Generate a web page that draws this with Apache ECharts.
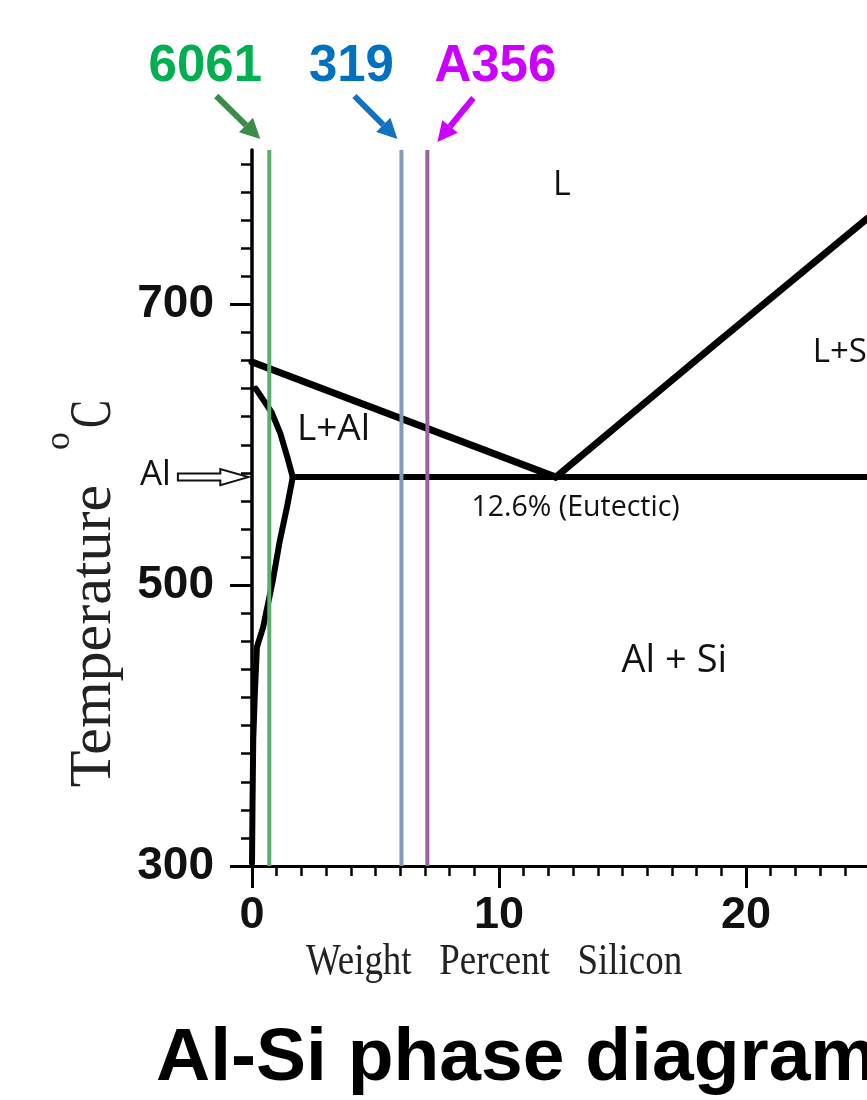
<!DOCTYPE html>
<html>
<head>
<meta charset="utf-8">
<script src="https://cdn.jsdelivr.net/npm/echarts@6/dist/echarts.min.js"></script>
<style>
html, body { margin: 0; padding: 0; background: #fff; }
#chart { width: 867px; height: 1100px; }
</style>
</head>
<body>
<div id="chart"></div>
<script>
// phase boundaries, [wt% Si, temperature C]
var liquidusAl = [[0, 659], [12.3, 577]];
var liquidusSi = [[12.3, 577], [18.5, 668], [24.9, 761]];
var eutecticLine = [[1.65, 577], [24.9, 577]];
var solidusAl = [[0.15, 640], [0.8, 623], [1.15, 608], [1.45, 590], [1.65, 577]];
var solvusAl = [[1.65, 577], [1.42, 556], [1.13, 532], [0.85, 504], [0.45, 470], [0.2, 456], [0.12, 425], [0.05, 390], [0.02, 342], [0, 302]];

// alloys marked on the diagram
var alloyNames = ['6061', '319', 'A356'];
var alloySi = [0.7, 6.05, 7.1];

// region labels
var regionText = ['L', 'L+Al', 'L+Si', '12.6% (Eutectic)', 'Al + Si'];
var regionSi = [12.55, 3.3, 22.7, 13.1, 17.1];
var regionTemp = [785, 611, 666, 555, 446];

// "Al" arrow on the temperature axis: from, to (wt% Si), temperature
var alArrow = [-3.0, -0.15, 577];

var xTicks = [0, 10, 20];
var yTicks = [300, 500, 700];
var xRange = [0, 24.9];
var yRange = [300, 810];

// styles
var alloyColor = ['#5aae6b', '#7f9bb8', '#9b62a0'];
var labelColor = ['#00b050', '#0070c0', '#cc00ff'];
var arrowColor = ['#3b8b4a', '#1470c0', '#cc00ff'];
// label centre, arrow start and arrow tip, px offsets from the top of each alloy line
var labelOffset = [[-64, -83], [-50, -83], [68, -83]];
var arrowFrom = [[-53, -54], [-47, -54], [46, -52]];
var arrowTo = [[-9, -11], [-4, -11], [10, -8]];
var regionFont = [34, 37, 33, 28.5, 38];

var serif = '"Liberation Serif", "Times New Roman", serif';
var sans = '"Liberation Sans", Arial, sans-serif';
var calib = '"Open Sans", "Noto Sans", sans-serif';

function phaseLine(data, w) {
    return {
        type: 'line',
        data: data,
        showSymbol: false,
        symbol: 'none',
        clip: false,
        z: 3,
        lineStyle: { color: '#000', width: w, cap: 'round', join: 'round' }
    };
}

function renderAlloy(params, api) {
    var i = api.value(1);
    var top = api.coord([api.value(0), yRange[1]]);
    var bot = api.coord([api.value(0), yRange[0]]);
    var from = [top[0] + arrowFrom[i][0], top[1] + arrowFrom[i][1]];
    var to = [top[0] + arrowTo[i][0], top[1] + arrowTo[i][1]];
    var dx = to[0] - from[0], dy = to[1] - from[1];
    var len = Math.sqrt(dx * dx + dy * dy);
    var ux = dx / len, uy = dy / len;
    var headLen = 20, headHalf = 10;
    var base = [to[0] - ux * headLen, to[1] - uy * headLen];
    return {
        type: 'group',
        children: [{
            type: 'line',
            shape: { x1: top[0], y1: top[1], x2: bot[0], y2: bot[1] },
            style: { stroke: alloyColor[i], lineWidth: 4 }
        }, {
            type: 'line',
            shape: { x1: from[0], y1: from[1], x2: base[0], y2: base[1] },
            style: { stroke: arrowColor[i], lineWidth: 6 }
        }, {
            type: 'polygon',
            shape: { points: [to, [base[0] - uy * headHalf, base[1] + ux * headHalf], [base[0] + uy * headHalf, base[1] - ux * headHalf]] },
            style: { fill: arrowColor[i] }
        }, {
            type: 'text',
            x: top[0] + labelOffset[i][0],
            y: top[1] + labelOffset[i][1],
            style: {
                text: alloyNames[i], fill: labelColor[i],
                font: 'bold 51px ' + sans, align: 'center', verticalAlign: 'middle'
            }
        }]
    };
}

function renderRegion(params, api) {
    var i = api.value(2);
    var p = api.coord([api.value(0), api.value(1)]);
    return {
        type: 'text',
        x: p[0], y: p[1],
        style: {
            text: regionText[i], fill: '#111',
            font: regionFont[i] + 'px ' + calib,
            align: i === 2 ? 'left' : 'center', verticalAlign: 'middle'
        }
    };
}

function renderAlArrow(params, api) {
    var a = api.coord([api.value(0), api.value(2)]);
    var b = api.coord([api.value(1), api.value(2)]);
    var y = a[1], hb = b[0] - 28;
    return {
        type: 'group',
        children: [{
            type: 'polygon',
            shape: { points: [[a[0], y - 3.5], [hb, y - 3.5], [hb, y - 8], [b[0], y], [hb, y + 8], [hb, y + 3.5], [a[0], y + 3.5]] },
            style: { fill: '#fff', stroke: '#111', lineWidth: 2 }
        }, {
            type: 'text',
            x: a[0] - 7, y: y - 2,
            style: { text: 'Al', fill: '#111', font: '35px ' + calib, align: 'right', verticalAlign: 'middle' }
        }]
    };
}

var chart = echarts.init(document.getElementById('chart'));
var option = {
    animation: false,
    backgroundColor: '#fff',
    grid: { left: 252, top: 150, right: 0, bottom: 234 },
    xAxis: {
        type: 'value',
        min: xRange[0],
        max: xRange[1],
        interval: xTicks[1] - xTicks[0],
        axisLine: { lineStyle: { color: '#000', width: 3 } },
        axisTick: { customValues: xTicks, length: 22, lineStyle: { color: '#000', width: 3 } },
        minorTick: { show: true, splitNumber: 10, length: 10, lineStyle: { color: '#000', width: 2.5 } },
        splitLine: { show: false },
        axisLabel: {
            customValues: xTicks, margin: 27, color: '#111',
            fontSize: 45, fontWeight: 'bold', fontFamily: sans
        }
    },
    yAxis: {
        type: 'value',
        min: yRange[0],
        max: yRange[1],
        interval: yTicks[1] - yTicks[0],
        axisLine: { lineStyle: { color: '#000', width: 3.5 } },
        axisTick: { customValues: yTicks, length: 22, lineStyle: { color: '#000', width: 3 } },
        minorTick: { show: true, splitNumber: 10, length: 11, lineStyle: { color: '#000', width: 2.5 } },
        splitLine: { show: false },
        axisLabel: {
            customValues: yTicks, margin: 38, color: '#111',
            fontSize: 46, fontWeight: 'bold', fontFamily: sans
        }
    },
    graphic: [{
        type: 'text', x: 94, y: 636, rotation: Math.PI / 2,
        style: { text: 'Temperature', fill: '#222', font: '60px ' + serif, align: 'center', verticalAlign: 'middle' }
    }, {
        type: 'text', x: 60, y: 441, rotation: Math.PI / 2,
        style: { text: 'o', fill: '#222', font: '36px ' + serif, align: 'center', verticalAlign: 'middle' }
    }, {
        type: 'text', x: 94, y: 414, rotation: Math.PI / 2, scaleX: 0.7,
        style: { text: 'C', fill: '#222', font: '60px ' + serif, align: 'center', verticalAlign: 'middle' }
    }, {
        type: 'text', x: 494, y: 962, scaleX: 0.82,
        style: { text: 'Weight   Percent   Silicon', fill: '#222', font: '45px ' + serif, align: 'center', verticalAlign: 'middle' }
    }, {
        type: 'text', x: 156, y: 1059,
        style: { text: 'Al-Si phase diagram', fill: '#000', font: 'bold 75px ' + sans, align: 'left', verticalAlign: 'middle' }
    }],
    series: [
        phaseLine(liquidusAl, 7),
        phaseLine(liquidusSi, 7),
        phaseLine(eutecticLine, 6),
        phaseLine(solidusAl, 6),
        phaseLine(solvusAl, 6),
        {
            type: 'custom',
            renderItem: renderAlloy,
            clip: false,
            z: 5,
            data: alloySi.map(function (v, i) { return [v, i]; })
        },
        {
            type: 'custom',
            renderItem: renderRegion,
            clip: false,
            z: 4,
            data: regionSi.map(function (v, i) { return [v, regionTemp[i], i]; })
        },
        {
            type: 'custom',
            renderItem: renderAlArrow,
            clip: false,
            z: 4,
            data: [alArrow]
        }
    ]
};
chart.setOption(option);
</script>
</body>
</html>
